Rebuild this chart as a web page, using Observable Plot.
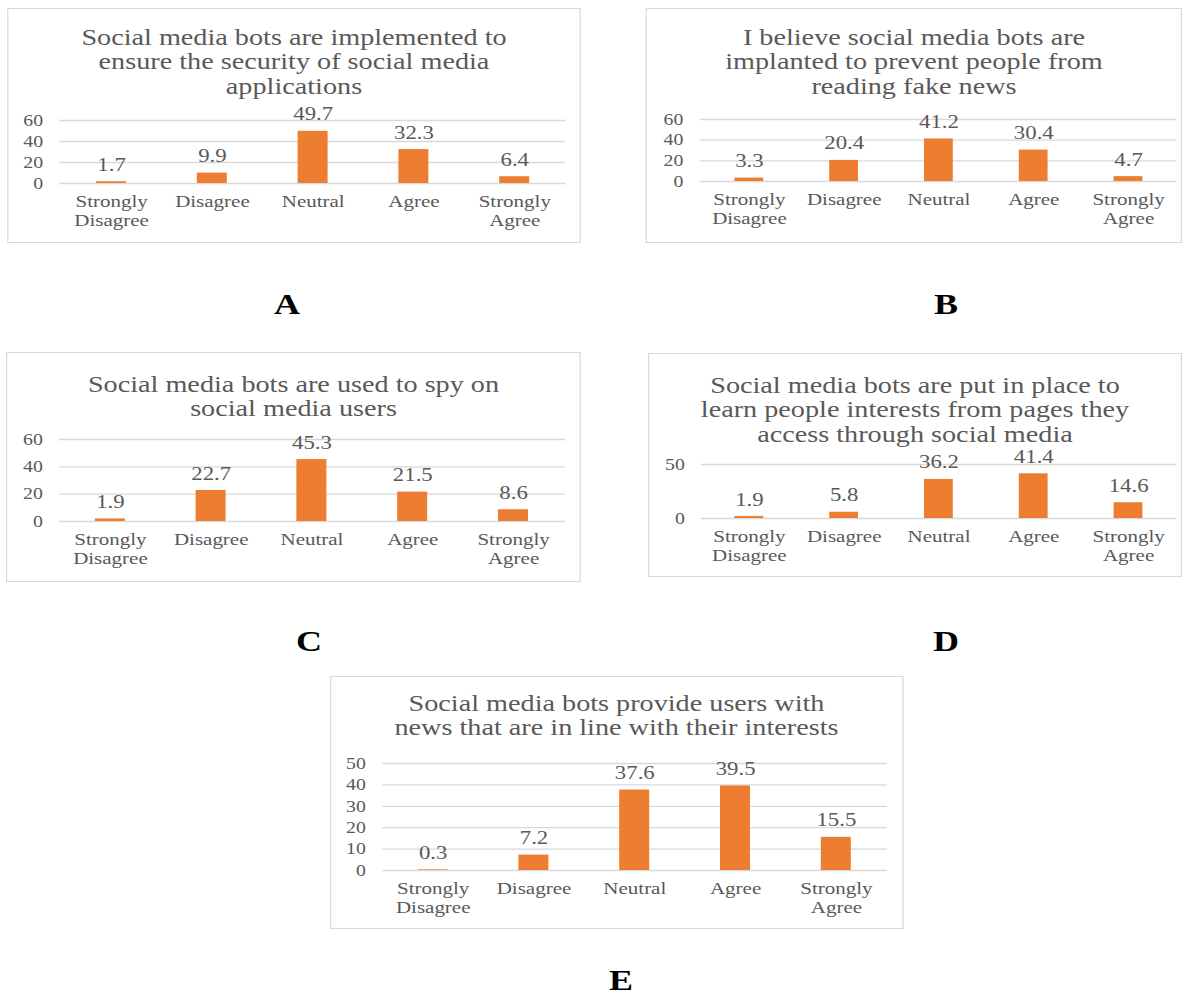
<!DOCTYPE html>
<html>
<head>
<meta charset="utf-8">
<script src="https://cdn.jsdelivr.net/npm/d3@7"></script>
<script src="https://cdn.jsdelivr.net/npm/@observablehq/plot@0.6"></script>
<style>
  html, body { margin: 0; padding: 0; background: #ffffff; overflow: hidden; }
  #page { position: relative; width: 1003px; height: 997px; transform: scaleX(1.2); transform-origin: 0 0; }
  .box { position: absolute; border: 1px solid #d9d9d9; box-sizing: border-box; }
  .title { position: absolute; text-align: center; white-space: pre-line; color: #595959;
           font-family: "Liberation Serif", "Times New Roman", serif; font-size: 23.5px; line-height: 24.5px; }
  .letter { position: absolute; transform: translate(-50%, -50%); font-family: "Liberation Serif", "Times New Roman", serif;
            font-weight: bold; font-size: 30px; color: #000; line-height: 0.7; }
  .chart { position: absolute; }
  .chart svg { overflow: visible; }
</style>
</head>
<body>
<div id="page"></div>
<script>
// ---- data ----
const categories = ["Strongly Disagree", "Disagree", "Neutral", "Agree", "Strongly Agree"];
const titleA = "Social media bots are implemented to\nensure the security of social media\napplications";
const titleB = "I believe social media bots are\nimplanted to prevent people from\nreading fake news";
const titleC = "Social media bots are used to spy on\nsocial media users";
const titleD = "Social media bots are put in place to\nlearn people interests from pages they\naccess through social media";
const titleE = "Social media bots provide users with\nnews that are in line with their interests";
const valuesA = [1.7, 9.9, 49.7, 32.3, 6.4];
const valuesB = [3.3, 20.4, 41.2, 30.4, 4.7];
const valuesC = [1.9, 22.7, 45.3, 21.5, 8.6];
const valuesD = [1.9, 5.8, 36.2, 41.4, 14.6];
const valuesE = [0.3, 7.2, 37.6, 39.5, 15.5];
const ticksA = [0, 20, 40, 60];
const ticksB = [0, 20, 40, 60];
const ticksC = [0, 20, 40, 60];
const ticksD = [0, 50];
const ticksE = [0, 10, 20, 30, 40, 50];
const panelLetters = ["A", "B", "C", "D", "E"];

// ---- layout (page pixels; x is divided by the horizontal stretch) ----
const S = 1.2;
const layout = [
  { title: titleA, values: valuesA, ticks: ticksA, box: [7, 8, 581, 243], plotX: [59, 565], yTop: 120, y0: 183, titleTop: 37, letter: [287, 303] },
  { title: titleB, values: valuesB, ticks: ticksB, box: [646, 8, 1182, 243], plotX: [700, 1177], yTop: 119, y0: 181, titleTop: 37, letter: [946, 303] },
  { title: titleC, values: valuesC, ticks: ticksC, box: [6, 352, 581, 582], plotX: [59, 565], yTop: 439, y0: 521, titleTop: 384, letter: [309, 640] },
  { title: titleD, values: valuesD, ticks: ticksD, box: [648, 353, 1182, 577], plotX: [701, 1176], yTop: 464, y0: 518, titleTop: 385, letter: [946, 640] },
  { title: titleE, values: valuesE, ticks: ticksE, box: [330, 676, 903, 929], plotX: [382, 887], yTop: 763, y0: 870, titleTop: 703, letter: [621, 979] }
];

const page = document.getElementById("page");
const serif = "'Liberation Serif', 'Times New Roman', serif";

layout.forEach((p, i) => {
  const bl = p.box[0] / S, br = p.box[2] / S;
  const box = document.createElement("div");
  box.className = "box";
  box.style.left = bl + "px";
  box.style.top = p.box[1] + "px";
  box.style.width = (br - bl) + "px";
  box.style.height = (p.box[3] - p.box[1]) + "px";
  page.appendChild(box);

  const t = document.createElement("div");
  t.className = "title";
  t.style.left = bl + "px";
  t.style.width = (br - bl) + "px";
  t.style.top = (p.titleTop - 12.25) + "px";
  t.textContent = p.title;
  page.appendChild(t);

  const data = categories.map((c, k) => ({ cat: c, value: p.values[k] }));
  const mt = 34, mb = 56;
  const yMax = p.ticks[p.ticks.length - 1];
  const chart = Plot.plot({
    width: br - bl,
    height: mt + (p.y0 - p.yTop) + mb,
    marginLeft: p.plotX[0] / S - bl,
    marginRight: br - p.plotX[1] / S,
    marginTop: mt,
    marginBottom: mb,
    style: { fontFamily: serif, color: "#595959", background: "none", overflow: "visible", fontSize: "17px" },
    x: { domain: categories, paddingInner: 0.7, paddingOuter: 0.35 },
    y: { domain: [0, yMax] },
    marks: [
      Plot.gridY(p.ticks, { stroke: "#d9d9d9", strokeOpacity: 1, strokeWidth: 1.3 }),
      Plot.barY(data, { x: "cat", y: "value", fill: "#ED7D31" }),
      Plot.axisY(p.ticks, { tickSize: 0, tickPadding: 14, fontSize: 16.5, label: null }),
      Plot.axisX({ tickSize: 0, tickPadding: 10, fontSize: 17.5, lineHeight: 1.1, label: null,
                   tickFormat: d => d.replace(" ", "\n") }),
      Plot.text(data, { x: "cat", y: "value", text: d => d.value.toFixed(1), dy: -17,
                        lineAnchor: "middle", fontSize: 19, fill: "#595959" })
    ]
  });
  const wrap = document.createElement("div");
  wrap.className = "chart";
  wrap.style.left = bl + "px";
  wrap.style.top = (p.yTop - mt) + "px";
  wrap.appendChild(chart);
  page.appendChild(wrap);

  const L = document.createElement("div");
  L.className = "letter";
  L.style.left = (p.letter[0] / S) + "px";
  L.style.top = p.letter[1] + "px";
  L.textContent = panelLetters[i];
  page.appendChild(L);
});
</script>
</body>
</html>
